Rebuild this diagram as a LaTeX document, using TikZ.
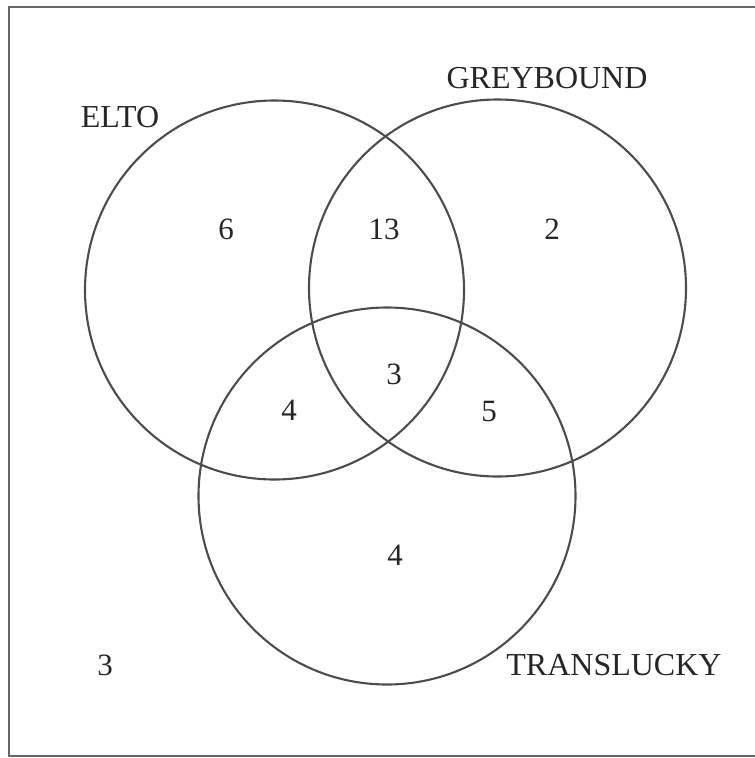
\documentclass[tikz,border=0pt]{standalone}
\usepackage{fontspec}
\setmainfont{Liberation Serif}
\begin{document}
\begin{tikzpicture}[x=1pt,y=-1pt,
  setcircle/.style={draw=black!70,line width=2.1pt},
  frameline/.style={draw=black!60,line width=1.6pt},
  setlabel/.style={inner sep=0pt,text=black!85,font=\fontsize{32}{32}\selectfont},
  count/.style={inner sep=0pt,text=black!85,font=\fontsize{31}{31}\selectfont}]
  \useasboundingbox (0,0) rectangle (755,758);
  % outer frame (the universe)
  \draw[frameline] (9,7) rectangle (780,756);
  % the three sets
  \node[setcircle,circle,minimum size=379pt,inner sep=0pt] (elto) at (274.5,290) {};
  \node[setcircle,circle,minimum size=377pt,inner sep=0pt] (grey) at (497.5,288) {};
  \node[setcircle,circle,minimum size=377pt,inner sep=0pt] (trans) at (387,496) {};
  % set names
  \node[setlabel] (lelto) at (120,117.5) {ELTO};
  \node[setlabel] (lgrey) at (547,78) {GREYBOUND};
  \node[setlabel] (ltrans) at (614,665) {TRANSLUCKY};
  % region counts
  \node[count] (e) at (226,229) {6};
  \node[count] (eg) at (384,229) {13};
  \node[count] (g) at (552,229) {2};
  \node[count] (egt) at (394,374) {3};
  \node[count] (et) at (289,410) {4};
  \node[count] (gt) at (489,411) {5};
  \node[count] (t) at (395,555) {4};
  \node[count] (none) at (105,665) {3};
\end{tikzpicture}
\end{document}
